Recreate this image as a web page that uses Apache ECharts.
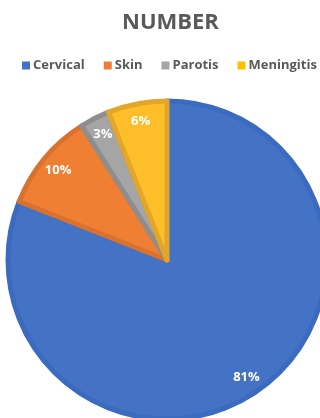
<!DOCTYPE html>
<html>
<head>
<meta charset="utf-8">
<script src="https://cdn.jsdelivr.net/npm/echarts@6/dist/echarts.min.js"></script>
<style>
html,body{margin:0;padding:0;background:#fff;}
#c{width:320px;height:418px;}
</style>
</head>
<body>
<div id="c"></div>
<script>
const categories = ['Cervical', 'Skin', 'Parotis', 'Meningitis'];
const values = [81, 10, 3, 6];
const fillColors = ['#4472C4', '#EF7F33', '#A5A5A5', '#FDBE2A'];
const borderColors = ['#3B6BC0', '#D9722E', '#8E8E8E', '#E2A62A'];
const legendColors = ['#4472C4', '#ED7D31', '#A5A5A5', '#FFC000'];

const chart = echarts.init(document.getElementById('c'), null, {renderer: 'canvas'});
const FONT = '"Open Sans", "DejaVu Sans", sans-serif';
const R = 159;

chart.setOption({
  animation: false,
  backgroundColor: '#ffffff',
  title: {
    text: 'NUMBER',
    left: 117,
    top: 7,
    textStyle: {fontFamily: FONT, fontWeight: 'bold', fontSize: 22, color: '#595959'}
  },
  legend: {
    data: categories.map((c, i) => ({name: c, itemStyle: {color: legendColors[i], borderWidth: 0}})),
    top: 59,
    left: 22,
    width: 298,
    padding: 0,
    icon: 'rect',
    itemWidth: 8,
    itemHeight: 8,
    itemGap: 19,
    textStyle: {fontFamily: FONT, fontWeight: 'bold', fontSize: 13, color: '#595959', padding: [0, 0, 0, -2]}
  },
  series: [
    {
      type: 'pie',
      center: [167, 260],
      radius: [0, R],
      startAngle: 90,
      clockwise: true,
      avoidLabelOverlap: false,
      silent: true,
      label: {show: false},
      labelLine: {show: false},
      data: categories.map((c, i) => ({
        name: c,
        value: values[i],
        itemStyle: {color: fillColors[i], borderColor: borderColors[i], borderWidth: 5}
      }))
    },
    {
      type: 'pie',
      center: [167, 260],
      radius: [R * 0.74, R],
      startAngle: 90,
      clockwise: true,
      avoidLabelOverlap: false,
      silent: true,
      legendHoverLink: false,
      itemStyle: {color: 'rgba(0,0,0,0)'},
      label: {
        show: true,
        position: 'inside',
        formatter: p => Math.round(p.percent) + '%',
        fontFamily: FONT,
        fontWeight: 'bold',
        fontSize: 13,
        color: '#ffffff'
      },
      labelLine: {show: false},
      data: categories.map((c, i) => ({name: c, value: values[i]}))
    }
  ]
});
</script>
</body>
</html>
